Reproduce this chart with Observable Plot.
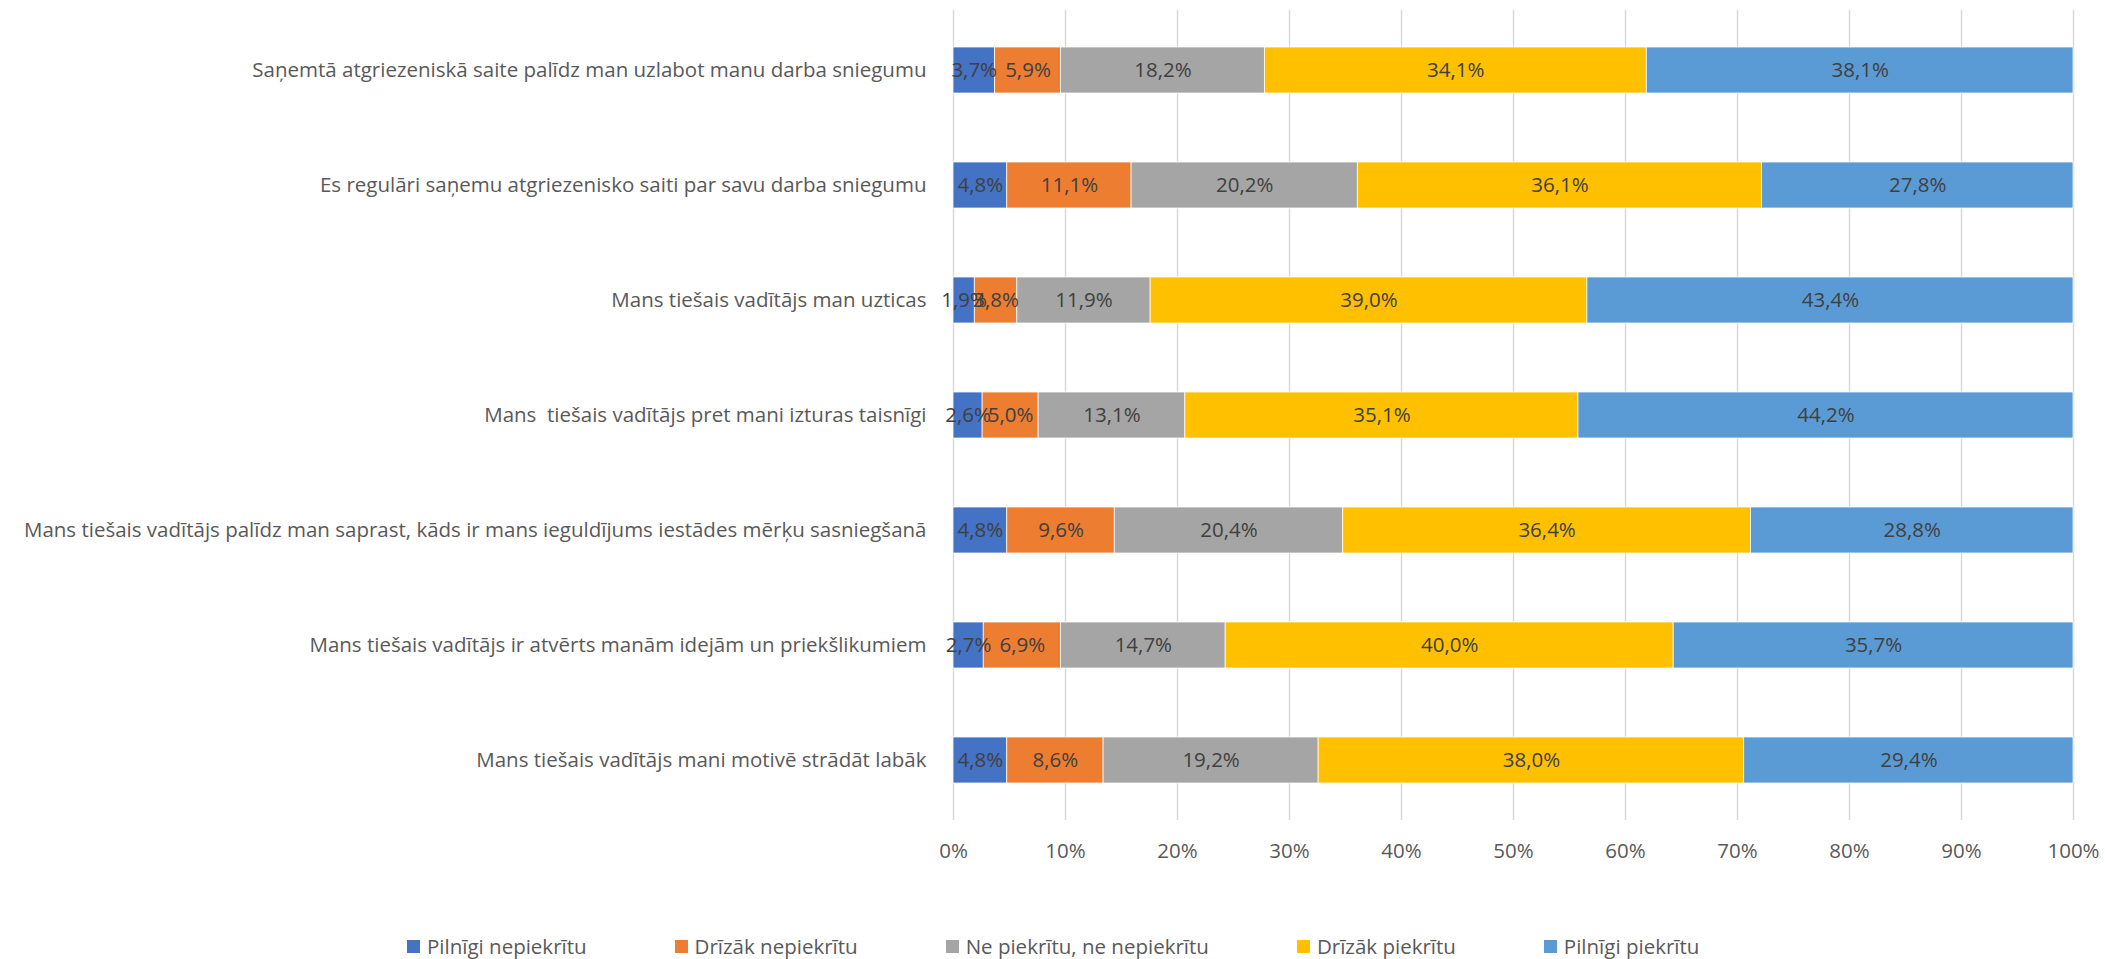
<!DOCTYPE html>
<html>
<head>
<meta charset="utf-8">
<script src="https://cdn.jsdelivr.net/npm/d3@7"></script>
<script src="https://cdn.jsdelivr.net/npm/@observablehq/plot@0.6"></script>
<style>
  html, body { margin: 0; padding: 0; background: #fff; }
  body { width: 2105px; height: 959px; overflow: hidden; font-family: "Open Sans", sans-serif; }
  #legend { display: flex; justify-content: flex-start; align-items: center; margin-left: 407px; margin-top: 52px; font-size: 20.5px; color: #595959; }
  .item { display: flex; align-items: center; margin-right: 88px; }
  .sw { width: 13px; height: 13px; margin-right: 7px; }
</style>
</head>
<body>
<div id="chart"></div>
<div id="legend"></div>
<script>
const questions = [
  "Saņemtā atgriezeniskā saite palīdz man uzlabot manu darba sniegumu",
  "Es regulāri saņemu atgriezenisko saiti par savu darba sniegumu",
  "Mans tiešais vadītājs man uzticas",
  "Mans  tiešais vadītājs pret mani izturas taisnīgi",
  "Mans tiešais vadītājs palīdz man saprast, kāds ir mans ieguldījums iestādes mērķu sasniegšanā",
  "Mans tiešais vadītājs ir atvērts manām idejām un priekšlikumiem",
  "Mans tiešais vadītājs mani motivē strādāt labāk"
];
const seriesNames = ["Pilnīgi nepiekrītu", "Drīzāk nepiekrītu", "Ne piekrītu, ne nepiekrītu", "Drīzāk piekrītu", "Pilnīgi piekrītu"];
const colors = ["#4472C4", "#ED7D31", "#A5A5A5", "#FFC000", "#5B9BD5"];
const pilnigiNepiekritu = [3.7, 4.8, 1.9, 2.6, 4.8, 2.7, 4.8];
const drizakNepiekritu  = [5.9, 11.1, 3.8, 5.0, 9.6, 6.9, 8.6];
const nePiekritu        = [18.2, 20.2, 11.9, 13.1, 20.4, 14.7, 19.2];
const drizakPiekritu    = [34.1, 36.1, 39.0, 35.1, 36.4, 40.0, 38.0];
const pilnigiPiekritu   = [38.1, 27.8, 43.4, 44.2, 28.8, 35.7, 29.4];
const xTicks = [0, 10, 20, 30, 40, 50, 60, 70, 80, 90, 100];

const seriesValues = [pilnigiNepiekritu, drizakNepiekritu, nePiekritu, drizakPiekritu, pilnigiPiekritu];
const data = [];
questions.forEach((q, i) => {
  seriesNames.forEach((s, j) => {
    data.push({question: q, series: s, value: seriesValues[j][i]});
  });
});
const fmt = v => v.toFixed(1).replace(".", ",") + "%";

const chart = Plot.plot({
  width: 2105,
  height: 880,
  marginLeft: 953,
  marginRight: 32,
  marginTop: 10,
  marginBottom: 60,
  style: {fontFamily: "Open Sans, sans-serif", fontSize: "20.5px", color: "#595959", background: "#fff"},
  x: {domain: [0, 100], ticks: xTicks, tickFormat: d => d + "%", label: null},
  y: {domain: questions, label: null, paddingInner: 0.6, paddingOuter: 0.3},
  color: {domain: seriesNames, range: colors},
  marks: [
    Plot.gridX(xTicks, {stroke: "#D9D9D9", strokeOpacity: 1, strokeWidth: 1.5}),
    Plot.axisX({ticks: xTicks, tickSize: 0, tickPadding: 23, tickFormat: d => d + "%", fill: "#595959", fontSize: 20.5}),
    Plot.axisY({tickSize: 0, tickPadding: 27, fill: "#595959", fontSize: 20.5}),
    Plot.barX(data, Plot.stackX({x: "value", y: "question", fill: "series", z: "series", order: seriesNames, stroke: "white", strokeWidth: 0.75})),
    Plot.text(data, Plot.stackX({x: "value", y: "question", z: "series", order: seriesNames, text: d => fmt(d.value), fill: "#404040", fontSize: 20.5}))
  ]
});
document.getElementById("chart").appendChild(chart);

const legend = document.getElementById("legend");
seriesNames.forEach((s, i) => {
  const item = document.createElement("div");
  item.className = "item";
  const sw = document.createElement("div");
  sw.className = "sw";
  sw.style.background = colors[i];
  const t = document.createElement("span");
  t.textContent = s;
  item.appendChild(sw);
  item.appendChild(t);
  legend.appendChild(item);
});
</script>
</body>
</html>
